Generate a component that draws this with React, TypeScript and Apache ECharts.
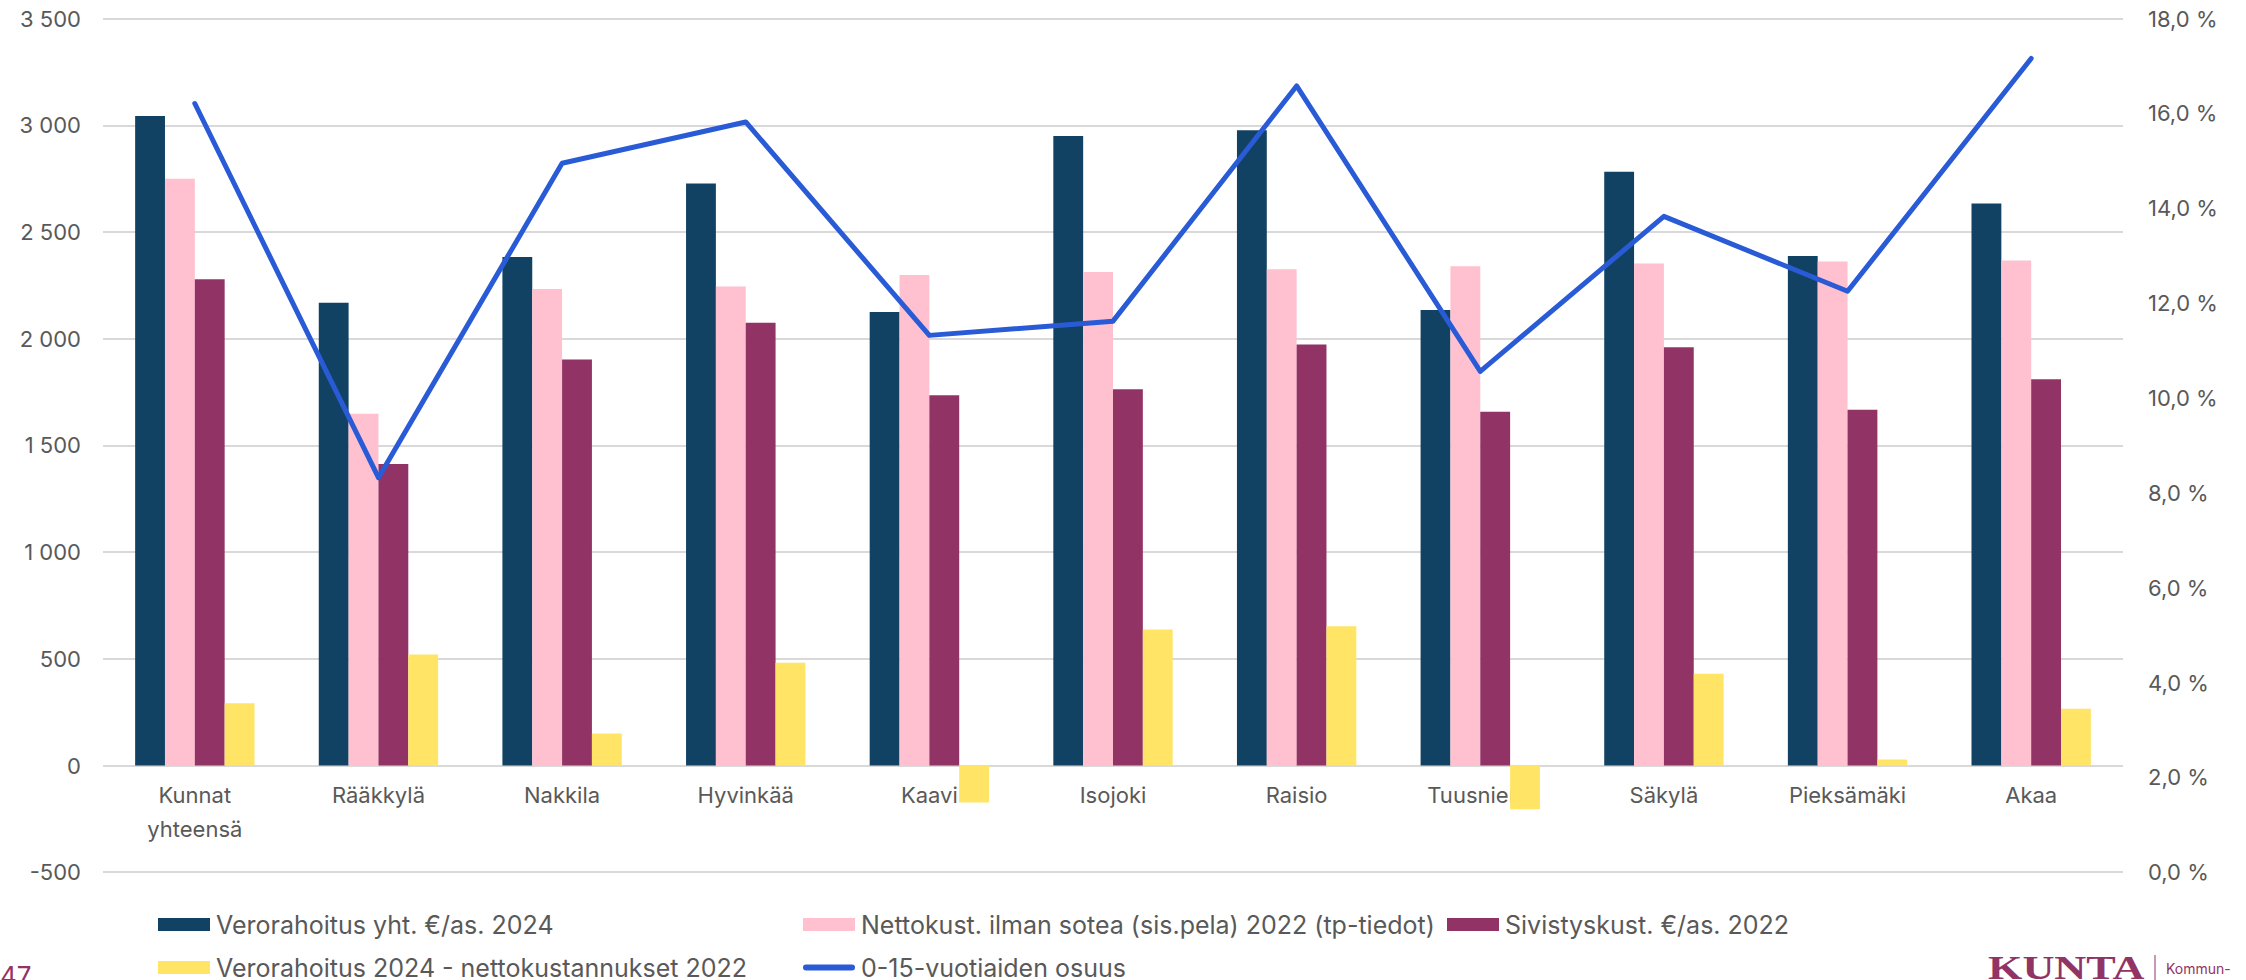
import React, { useEffect, useRef } from "react";
import * as echarts from "echarts";

const categories = ["Kunnat\nyhteensä", "Rääkkylä", "Nakkila", "Hyvinkää", "Kaavi", "Isojoki", "Raisio", "Tuusniemi", "Säkylä", "Pieksämäki", "Akaa"];
const verorahoitus = [3044, 2168, 2383, 2727, 2125, 2950, 2977, 2135, 2782, 2387, 2633];
const nettokust = [2750, 1648, 2233, 2245, 2298, 2313, 2325, 2340, 2352, 2362, 2367];
const sivistys = [2278, 1413, 1903, 2075, 1735, 1763, 1973, 1658, 1960, 1667, 1810];
const erotus = [292, 520, 150, 482, -173, 637, 652, -205, 430, 28, 266];
const osuus = [16.21, 8.32, 14.95, 15.82, 11.32, 11.62, 16.58, 10.56, 13.83, 12.25, 17.16];

const seriesNames = [
  "Verorahoitus yht. €/as. 2024",
  "Nettokust. ilman sotea (sis.pela) 2022 (tp-tiedot)",
  "Sivistyskust. €/as. 2022",
  "Verorahoitus 2024 - nettokustannukset 2022",
  "0-15-vuotiaiden osuus",
];
const colors = ["#124263", "#ffc0cf", "#923366", "#ffe465", "#2a5bd6"];

const FONT = "Inter, 'Noto Sans', sans-serif";
const TEXT = "#595959";

const GRID_TOP = 18.6;
const GRID_BOTTOM = 107.8;
const Y_MIN = -500;
const Y_MAX = 3500;

export default function App() {
  const ref = useRef<HTMLDivElement>(null);
  useEffect(() => {
    document.body.style.margin = "0";
    const chart = echarts.init(ref.current!, null, { renderer: "svg" });
    const plotH = 980 - GRID_TOP - GRID_BOTTOM;
    const zeroOffset = -(plotH * (0 - Y_MIN)) / (Y_MAX - Y_MIN);
    const legendPos = [
      { left: 158, top: 924 },
      { left: 803, top: 924 },
      { left: 1447, top: 924 },
      { left: 158, top: 967 },
      { left: 803, top: 967 },
    ];
    const legends = seriesNames.map((n, i) => ({
      data: [n],
      left: legendPos[i].left,
      top: legendPos[i].top - 12,
      padding: 0,
      itemWidth: 52,
      itemHeight: i === 4 ? 6 : 13,
      itemGap: 0,
      icon: i === 4 ? "path://M3,0 L49,0 A3,3 0 0 1 49,6 L3,6 A3,3 0 0 1 3,0 Z" : "rect",
      textStyle: { color: TEXT, fontSize: 25, fontFamily: FONT, padding: [0, 0, 0, 1], lineHeight: 24 },
      selectedMode: false,
    }));
    const barData = [verorahoitus, nettokust, sivistys, erotus];
    chart.setOption({
      animation: false,
      color: colors,
      grid: { left: 103, right: 123, top: GRID_TOP, bottom: GRID_BOTTOM, containLabel: false },
      legend: legends,
      xAxis: {
        type: "category",
        data: categories,
        offset: zeroOffset,
        axisLine: { show: false, onZero: false },
        axisTick: { show: false },
        axisLabel: { color: TEXT, fontSize: 22, fontFamily: FONT, margin: 12, lineHeight: 34, interval: 0 },
        z: 1,
      },
      yAxis: [
        {
          type: "value",
          min: Y_MIN,
          max: Y_MAX,
          interval: 500,
          axisLine: { show: false },
          axisTick: { show: false },
          splitLine: { lineStyle: { color: "#d9d9d9", width: 2 } },
          axisLabel: {
            color: TEXT,
            fontSize: 22,
            fontFamily: FONT,
            margin: 22,
            formatter: (v: number) => {
              const s = Math.abs(v).toString().replace(/\B(?=(\d{3})+(?!\d))/g, " ");
              return (v < 0 ? "-" : "") + s;
            },
          },
        },
        {
          type: "value",
          min: 0,
          max: 18,
          interval: 2,
          position: "right",
          axisLine: { show: false, onZero: false },
          axisTick: { show: false },
          splitLine: { show: false },
          axisLabel: {
            color: TEXT,
            fontSize: 22,
            fontFamily: FONT,
            margin: 25,
            formatter: (v: number) => v.toFixed(1).replace(".", ",") + " %",
          },
        },
      ],
      series: [
        ...barData.map((d, i) => ({
          name: seriesNames[i],
          type: "bar",
          data: d,
          yAxisIndex: 0,
          barGap: "0%",
          barCategoryGap: "35%",
          itemStyle: { color: colors[i] },
          z: 3,
        })),
        {
          name: seriesNames[4],
          type: "line",
          data: osuus,
          yAxisIndex: 1,
          symbol: "none",
          showSymbol: false,
          itemStyle: { color: colors[4] },
          lineStyle: { color: colors[4], width: 5, cap: "round", join: "round" },
          z: 4,
        },
      ],
      graphic: [
        {
          type: "text",
          left: 0,
          top: 962,
          style: { text: "47", fill: "#923366", fontSize: 26, fontFamily: FONT },
        },
        {
          type: "text",
          x: 1988,
          y: 951,
          scaleX: 1.34,
          style: { text: "KUNTA", fill: "#923366", fontSize: 33, fontWeight: "bold", fontFamily: "'Liberation Serif', serif" },
        },
        {
          type: "line",
          shape: { x1: 2155, y1: 955, x2: 2155, y2: 980 },
          style: { stroke: "#923366", lineWidth: 1 },
        },
        {
          type: "text",
          x: 2166,
          y: 961,
          style: { text: "Kommun-", fill: "#923366", fontSize: 14, fontFamily: FONT },
        },
      ],
    });
    return () => chart.dispose();
  }, []);
  return <div ref={ref} style={{ width: 2246, height: 980 }} />;
}
